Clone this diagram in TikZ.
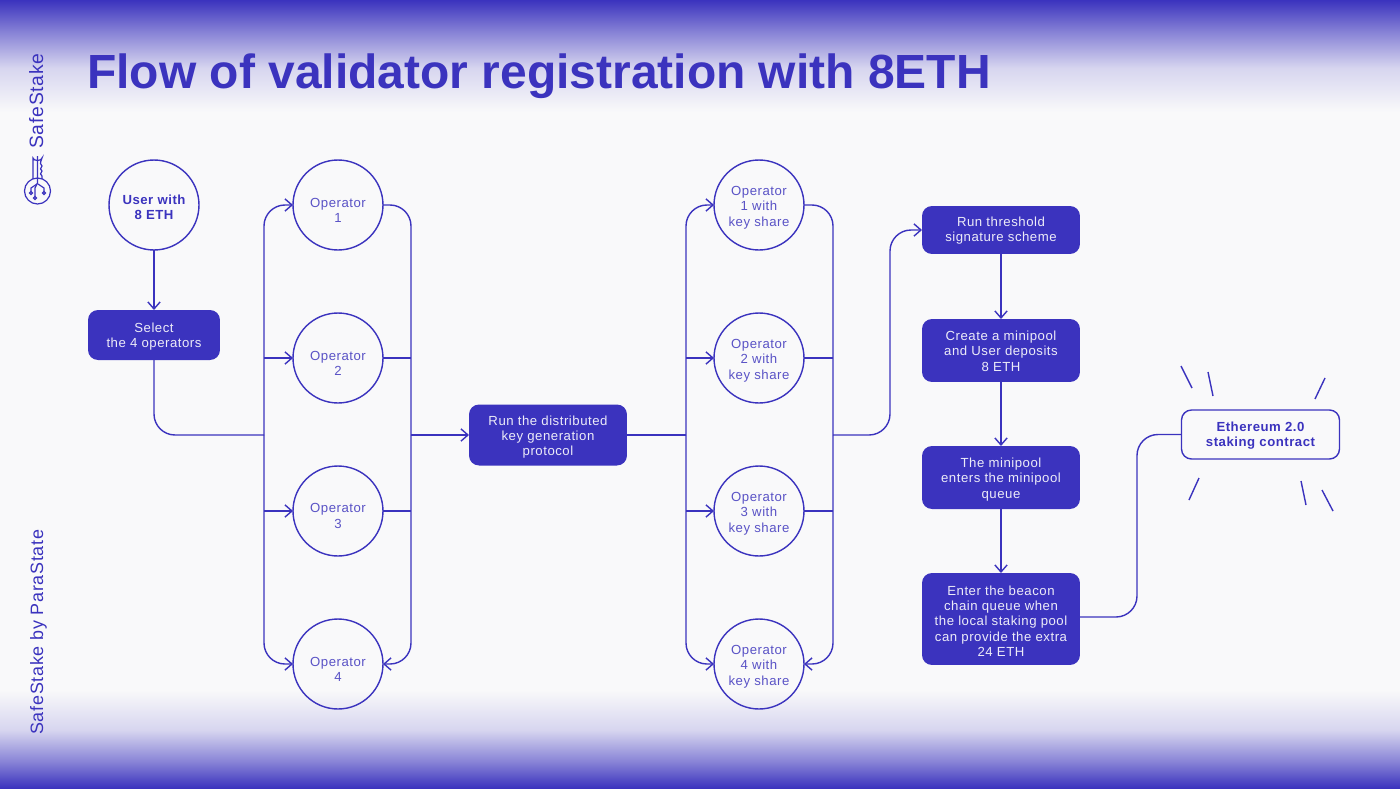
\documentclass[tikz,border=0pt]{standalone}
\usepackage{fontspec}
\setmainfont{Liberation Sans}
\newfontfamily\spacedfont[LetterSpace=4]{Liberation Sans}
\usepackage{xcolor}
\usetikzlibrary{arrows.meta}

\definecolor{brand}{HTML}{3B33BE}
\definecolor{opink}{HTML}{5A53C6}
\definecolor{paper}{HTML}{F9F9FA}
\definecolor{boxink}{HTML}{ECEBF8}

% first line taller, so the lines of a node sit a little lower
\newcommand{\dropline}[1]{\rule{0pt}{#1}}

\tikzset{
    wire/.style={draw=brand, line width=0.8pt},
    arrowed/.style={-{Straight Barb[length=4pt,width=7pt,line width=0.8pt]}},
    curved/.style={rounded corners=0.42cm},
    opnode/.style={circle, draw=brand, line width=0.8pt, minimum size=1.8cm, inner sep=0pt, outer sep=0pt,
        align=center, text=opink, font=\spacedfont\fontsize{7.5}{8.7}\selectfont},
    stepbox/.style={rectangle, fill=brand, rounded corners=0.2cm, minimum width=3.16cm, inner sep=0pt, outer sep=0pt,
        align=center, text=boxink, font=\spacedfont\fontsize{7.5}{8.7}\selectfont},
    ray/.style={draw=brand, line width=0.8pt},
    logoline/.style={draw=brand, line width=0.7pt},
    sidelabel/.style={rotate=90, text=brand, inner sep=0pt, font=\spacedfont\fontsize{11}{13}\selectfont},
}

\begin{document}
\begin{tikzpicture}[x=0.02cm, y=-0.02cm]

    \useasboundingbox (0,0) rectangle (1400,788);

    % Paper
    \fill[paper] (0,0) rectangle (1400,788);

    % Top band
    \shade[top color=brand, bottom color=brand!60!paper] (0,0) rectangle (1400,32);
    \shade[top color=brand!60!paper, bottom color=brand!18!paper] (0,32) rectangle (1400,68);
    \shade[top color=brand!18!paper, bottom color=paper] (0,68) rectangle (1400,112);

    % Bottom band
    \shade[top color=paper, bottom color=brand!18!paper] (0,690) rectangle (1400,730);
    \shade[top color=brand!18!paper, bottom color=brand!60!paper] (0,730) rectangle (1400,762);
    \shade[top color=brand!60!paper, bottom color=brand] (0,762) rectangle (1400,788);

    % Title
    \node[anchor=base west, inner sep=0pt, text=brand, font=\bfseries\fontsize{27.3}{30}\selectfont] (title) at (87,88) {Flow of validator registration with 8ETH};

    % Side labels
    \node[sidelabel, anchor=base east] (brandname) at (43,53) {SafeStake};
    \node[sidelabel, anchor=base west, font=\spacedfont\fontsize{10.2}{12}\selectfont] (byline) at (43,735) {SafeStake by ParaState};

    % Key logo
    \draw[logoline] (37.5,191) circle (13);
    \draw[logoline] (33,179) -- (33,158) arc[start angle=180,end angle=0,x radius=4.5,y radius=2.5]
        .. controls (40,163) and (40,165) .. (42,166) .. controls (40,168) and (40,170) .. (42,171)
        .. controls (40,173) and (40,175) .. (42,176) -- (42,179);
    \draw[logoline] (37.5,156) -- (37.5,183) -- (35,188) -- (35,196.5);
    \draw[logoline] (37,184) -- (31,188) -- (31,191.5);
    \draw[logoline] (38,184) -- (44,188) -- (44,191.5);
    \draw[logoline] (31,193) circle (1.4);
    \draw[logoline] (35,198) circle (1.4);
    \draw[logoline] (44,193) circle (1.4);

    % User
    \node[opnode, text=brand, font=\spacedfont\bfseries\fontsize{7.5}{8.7}\selectfont] (user) at (154,205) {\dropline{7.7pt}User with\\8 ETH};
    \node[stepbox, minimum width=2.64cm, minimum height=1cm] (select) at (154,335) {\dropline{7.2pt}Select\\the 4 operators};

    % Operators
    \foreach \n/\y in {1/205,2/358,3/511,4/664} {
        \node[opnode] (op\n) at (338,\y) {\dropline{11pt}Operator\\\n};
        \node[opnode] (keyop\n) at (759,\y) {\dropline{8.2pt}Operator\\\n{} with\\key share};
    }

    % Middle and right steps
    \node[stepbox, minimum height=1.22cm] (dkg) at (548,435) {\dropline{7.7pt}Run the distributed\\key generation\\protocol};
    \node[stepbox, minimum height=0.96cm] (tss) at (1001,230) {\dropline{6.5pt}Run threshold\\signature scheme};
    \node[stepbox, minimum height=1.26cm] (minipool) at (1001,350.5) {\dropline{6.2pt}Create a minipool\\and User deposits\\8 ETH};
    \node[stepbox, minimum height=1.26cm] (queue) at (1001,477.5) {\dropline{7.7pt}The minipool\\enters the minipool\\queue};
    \node[stepbox, minimum height=1.84cm] (beacon) at (1001,619) {\dropline{7.7pt}Enter the beacon\\chain queue when\\the local staking pool\\can provide the extra\\24 ETH};
    \node[stepbox, fill=paper, draw=brand, line width=0.8pt, text=brand, font=\spacedfont\bfseries\fontsize{7.5}{8.7}\selectfont, minimum height=0.98cm] (contract) at (1260.5,434.5) {\dropline{6.5pt}Ethereum 2.0\\staking contract};

    % Bus points
    \coordinate (splitA) at (264,435);
    \coordinate (mergeA) at (411,435);
    \coordinate (splitB) at (686,435);
    \coordinate (mergeB) at (833,435);

    % User to operators
    \draw[wire, arrowed] (user) -- (select);
    \draw[wire, curved] (select) |- (splitA);
    \draw[wire, arrowed, curved] (splitA) |- (op1);
    \draw[wire, arrowed, curved] (splitA) |- (op4);
    \draw[wire, arrowed] (splitA |- op2) -- (op2);
    \draw[wire, arrowed] (splitA |- op3) -- (op3);

    % Operators to distributed key generation
    \draw[wire, curved] (op1) -| (mergeA);
    \draw[wire, arrowed, curved] (mergeA) |- (op4);
    \draw[wire] (op2) -- (mergeA |- op2);
    \draw[wire] (op3) -- (mergeA |- op3);
    \draw[wire, arrowed] (mergeA) -- (dkg);

    % Distributed key generation to operators with key share
    \draw[wire] (dkg) -- (splitB);
    \draw[wire, arrowed, curved] (splitB) |- (keyop1);
    \draw[wire, arrowed, curved] (splitB) |- (keyop4);
    \draw[wire, arrowed] (splitB |- keyop2) -- (keyop2);
    \draw[wire, arrowed] (splitB |- keyop3) -- (keyop3);
    \draw[wire, curved] (keyop1) -| (mergeB);
    \draw[wire, arrowed, curved] (mergeB) |- (keyop4);
    \draw[wire] (keyop2) -- (mergeB |- keyop2);
    \draw[wire] (keyop3) -- (mergeB |- keyop3);

    % Right column
    \draw[wire, arrowed, curved] (mergeB) -- (890,435) |- (tss);
    \draw[wire, arrowed] (tss) -- (minipool);
    \draw[wire, arrowed] (minipool) -- (queue);
    \draw[wire, arrowed] (queue) -- (beacon);
    \draw[wire, curved] (beacon.east |- 0,617) -- (1137,617) |- (contract.west);

    % Rays
    \draw[ray] (1181,366) -- (1192,388);
    \draw[ray] (1208,372) -- (1213,396);
    \draw[ray] (1325,378) -- (1315,399);
    \draw[ray] (1199,478) -- (1189,500);
    \draw[ray] (1301,481) -- (1306,505);
    \draw[ray] (1322,490) -- (1333,511);

\end{tikzpicture}
\end{document}
